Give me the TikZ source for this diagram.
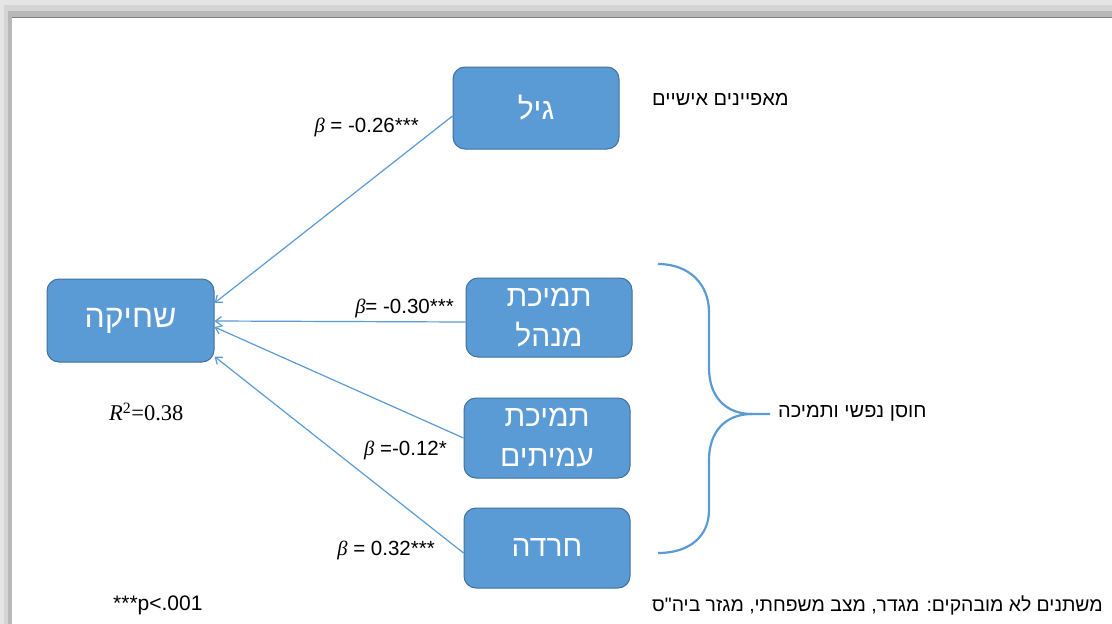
\documentclass[tikz,border=0pt]{standalone}
\usepackage{fontspec}
\setmainfont{Liberation Sans}
\newfontfamily\heb[Script=Hebrew]{Liberation Sans}
\newfontfamily\serifgr{Liberation Serif}
\usetikzlibrary{arrows.meta}
\TeXXeTstate=1
\definecolor{boxblue}{HTML}{5B9BD5}
\definecolor{boxedge}{HTML}{41719C}
\newcommand{\bet}{{\serifgr\itshape β}}
\begin{document}
\begin{tikzpicture}[x=1pt,y=-1pt,
  vbox/.style={draw=boxedge, line width=1pt, fill=boxblue, rounded corners=12pt,
    text=white, minimum width=166pt, minimum height=80pt,
    font=\heb\fontsize{30}{40}\selectfont, align=center, inner sep=0pt},
  conn/.style={draw=boxblue, line width=1.2pt, -{Straight Barb[length=6pt,width=9pt]}},
  lbl/.style={font=\fontsize{20.5}{24}\selectfont, inner sep=0pt},
  hlbl/.style={font=\heb\fontsize{20}{24}\selectfont, inner sep=0pt}
]
\useasboundingbox (0,0) rectangle (1112,624);
\clip (0,0) rectangle (1112,624);
% frame shadow
\fill[black!10] (0,0) rectangle (1112,624);
\fill[black!17] (4,5) rectangle (1112,624);
\fill[black!28] (8,11) rectangle (1112,624);
\fill[white] (12,18) rectangle (1112,624);
\draw[black!50, line width=0.8pt] (12,17.6) -- (1112,17.6);

% boxes
\node[vbox, minimum height=82pt] (gil) at (536,108) {\beginR גיל\endR};
\node[vbox, minimum width=167pt, minimum height=83pt, font=\heb\fontsize{32}{40}\selectfont] (shchika) at (130.5,320.5) {\beginR שחיקה\endR};
\node[vbox, minimum height=79pt] (menahel) at (549,317.5) {\beginR תמיכת\endR\\\beginR מנהל\endR};
\node[vbox] (amitim) at (547,438) {\beginR תמיכת\endR\\\beginR עמיתים\endR};
\node[vbox] (harada) at (547,548) {\beginR חרדה\endR};

% connectors
\draw[conn] ([yshift=-8pt]gil.west) -- ([yshift=17.5pt]shchika.east);
\draw[conn] ([yshift=-4.5pt]menahel.west) -- ([yshift=-0.5pt]shchika.east);
\draw[conn] (amitim.west) -- ([yshift=-6.5pt]shchika.east);
\draw[conn] ([yshift=-5pt]harada.west) -- ([yshift=-36pt]shchika.east);

% coefficient labels
\node[lbl, anchor=east] (l1) at (419,127) {\bet{} = -0.26***};
\node[lbl, anchor=east] (l2) at (454,308) {\bet= -0.30***};
\node[lbl, anchor=east] (l3) at (447,450) {\bet{} =-0.12*};
\node[lbl, anchor=east] (l4) at (435,550) {\bet{} = 0.32***};
\node[lbl, anchor=west, font=\serifgr\fontsize{22.5}{26}\selectfont] (r2) at (109,412) {\textit{R}\textsuperscript{2}=0.38};
\node[lbl, anchor=west, font=\fontsize{21}{24}\selectfont] (pv) at (113,605) {***p<.001};

% brace
\coordinate (btop) at (658,264);
\coordinate (bbot) at (658,553);
\coordinate (btip) at (770,414);
\draw[boxblue, line width=2.2pt]
  (btop) .. controls (690,264) and (709,285) .. (709,312) -- (709,368)
  .. controls (709,396) and (725,414) .. (752,414) -- (btip);
\draw[boxblue, line width=2.2pt]
  (752,414) .. controls (725,414) and (709,432) .. (709,460) -- (709,510)
  .. controls (709,536) and (690,553) .. (bbot);

% Hebrew labels
\node[hlbl, anchor=west] (personal) at (652,99) {\beginR מאפיינים אישיים\endR};
\node[hlbl, anchor=west] (resil) at (778,413) {\beginR חוסן נפשי ותמיכה\endR};
\node[hlbl, anchor=west, font=\heb\fontsize{19.4}{24}\selectfont] (nonsig) at (652,605) {\beginR משתנים לא מובהקים: מגדר, מצב משפחתי, מגזר ביה"ס\endR};
\end{tikzpicture}
\end{document}
